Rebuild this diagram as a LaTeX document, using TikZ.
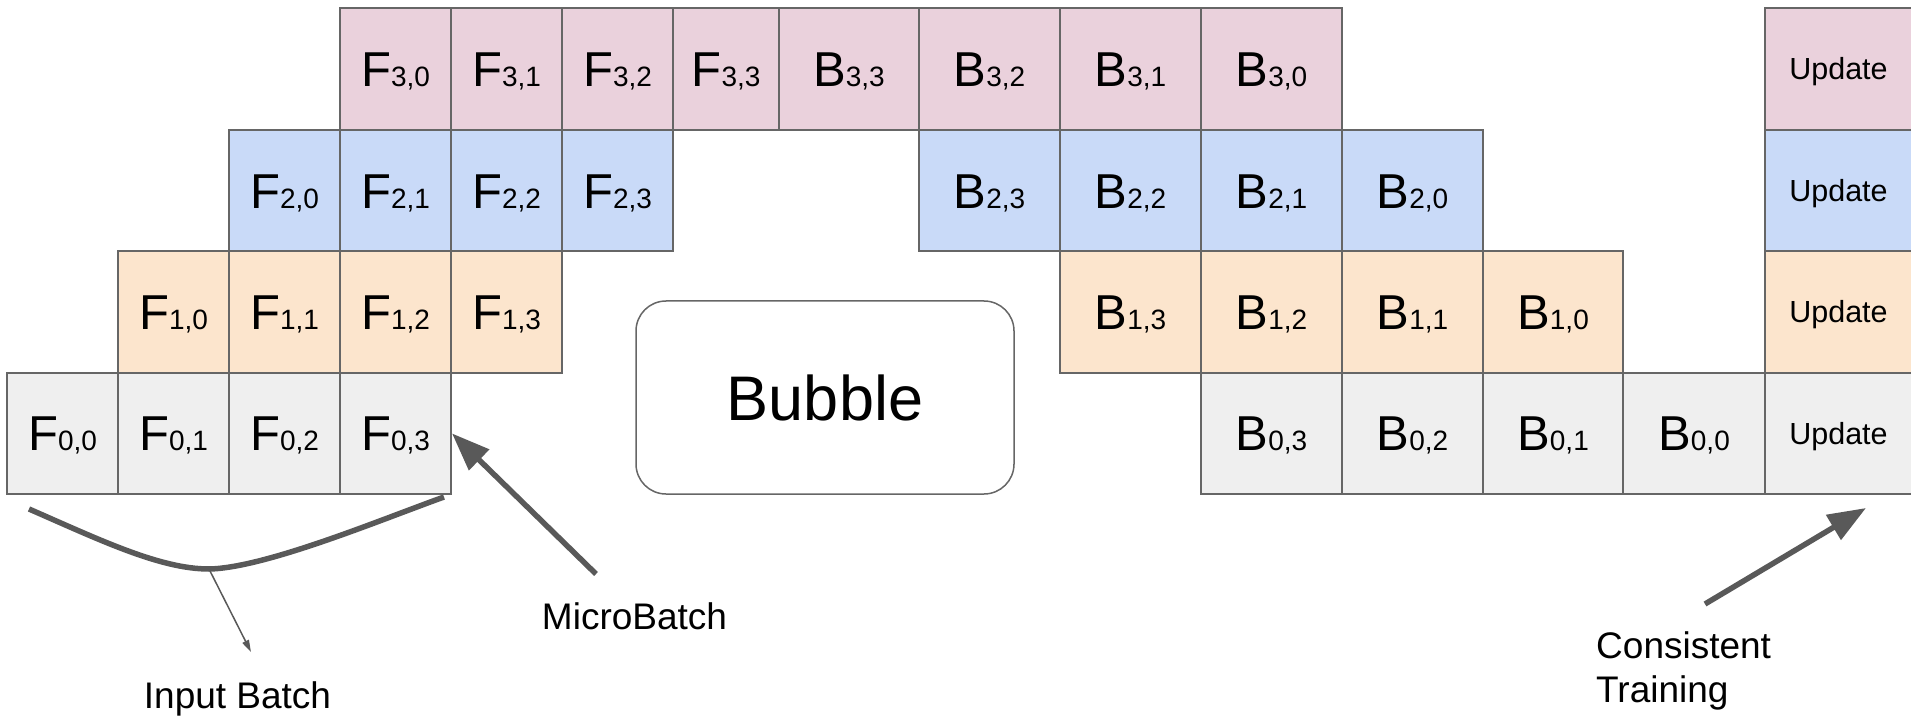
\documentclass[tikz,border=0pt]{standalone}
\usepackage{fontspec}
\setmainfont{Liberation Sans}
\usetikzlibrary{arrows.meta}

\definecolor{stagepink}{HTML}{EAD1DC}
\definecolor{stageblue}{HTML}{C9DAF8}
\definecolor{stageorange}{HTML}{FCE5CD}
\definecolor{stagegray}{HTML}{EFEFEF}
\definecolor{edgegray}{HTML}{666666}
\definecolor{arrowgray}{HTML}{595959}

% operation label: big letter followed by smaller stage,micro-batch index
\newcommand\opF[2]{{\fontsize{49}{49}\selectfont #1}{\fontsize{28}{28}\selectfont #2}}

% one schedule cell: name, left x, right x, stage row, fill, label
\newcommand\pcell[6]{%
  \node[cell, fill=#5, minimum width={(#3-#2)*1pt}] (#1)
    at ({(#2+#3)/2},{8.5+121.4*(3-#4)+60.7}) {#6};}

\begin{document}
\begin{tikzpicture}[x=1pt,y=-1pt,
  cell/.style={draw=edgegray, line width=2pt, minimum height=121.4pt,
    inner sep=0pt, text height=35pt, text depth=0pt},
  updatecell/.style={cell, minimum width=147pt, fill=#1, text height=21.5pt,
    font=\fontsize{30.5}{30.5}\selectfont},
  bubblebox/.style={draw=edgegray, line width=1.5pt, rounded corners=30pt,
    minimum width=378pt, minimum height=193pt, inner sep=0pt,
    text height=45pt, text depth=0pt, font=\fontsize{63}{63}\selectfont},
  notetext/.style={inner sep=0pt, font=\fontsize{37}{44}\selectfont},
  bigarrow/.style={draw=arrowgray, line width=5.5pt,
    -{Triangle[length=38pt,width=28pt]}},
  thinarrow/.style={draw=arrowgray, line width=1.5pt,
    -{Triangle[length=12pt,width=7pt]}},
  bracecurve/.style={draw=arrowgray, line width=5.5pt}]

\useasboundingbox (0,0) rectangle (1911,719);
\clip (0,0) rectangle (1911,719);

% stage 3
\pcell{F30}{340}{451}{3}{stagepink}{\opF{F}{3,0}}
\pcell{F31}{451}{562}{3}{stagepink}{\opF{F}{3,1}}
\pcell{F32}{562}{673}{3}{stagepink}{\opF{F}{3,2}}
\pcell{F33}{673}{779}{3}{stagepink}{\opF{F}{3,3}}
\pcell{B33}{779}{919}{3}{stagepink}{\opF{B}{3,3}}
\pcell{B32}{919}{1060}{3}{stagepink}{\opF{B}{3,2}}
\pcell{B31}{1060}{1201}{3}{stagepink}{\opF{B}{3,1}}
\pcell{B30}{1201}{1342}{3}{stagepink}{\opF{B}{3,0}}
% stage 2
\pcell{F20}{229}{340}{2}{stageblue}{\opF{F}{2,0}}
\pcell{F21}{340}{451}{2}{stageblue}{\opF{F}{2,1}}
\pcell{F22}{451}{562}{2}{stageblue}{\opF{F}{2,2}}
\pcell{F23}{562}{673}{2}{stageblue}{\opF{F}{2,3}}
\pcell{B23}{919}{1060}{2}{stageblue}{\opF{B}{2,3}}
\pcell{B22}{1060}{1201}{2}{stageblue}{\opF{B}{2,2}}
\pcell{B21}{1201}{1342}{2}{stageblue}{\opF{B}{2,1}}
\pcell{B20}{1342}{1483}{2}{stageblue}{\opF{B}{2,0}}
% stage 1
\pcell{F10}{118}{229}{1}{stageorange}{\opF{F}{1,0}}
\pcell{F11}{229}{340}{1}{stageorange}{\opF{F}{1,1}}
\pcell{F12}{340}{451}{1}{stageorange}{\opF{F}{1,2}}
\pcell{F13}{451}{562}{1}{stageorange}{\opF{F}{1,3}}
\pcell{B13}{1060}{1201}{1}{stageorange}{\opF{B}{1,3}}
\pcell{B12}{1201}{1342}{1}{stageorange}{\opF{B}{1,2}}
\pcell{B11}{1342}{1483}{1}{stageorange}{\opF{B}{1,1}}
\pcell{B10}{1483}{1623}{1}{stageorange}{\opF{B}{1,0}}
% stage 0
\pcell{F00}{7}{118}{0}{stagegray}{\opF{F}{0,0}}
\pcell{F01}{118}{229}{0}{stagegray}{\opF{F}{0,1}}
\pcell{F02}{229}{340}{0}{stagegray}{\opF{F}{0,2}}
\pcell{F03}{340}{451}{0}{stagegray}{\opF{F}{0,3}}
\pcell{B03}{1201}{1342}{0}{stagegray}{\opF{B}{0,3}}
\pcell{B02}{1342}{1483}{0}{stagegray}{\opF{B}{0,2}}
\pcell{B01}{1483}{1623}{0}{stagegray}{\opF{B}{0,1}}
\pcell{B00}{1623}{1765}{0}{stagegray}{\opF{B}{0,0}}

% weight updates
\node[updatecell=stagepink]   (U3) at (1838.5,{8.5+60.7})       {Update};
\node[updatecell=stageblue]   (U2) at (1838.5,{8.5+121.4+60.7}) {Update};
\node[updatecell=stageorange] (U1) at (1838.5,{8.5+242.8+60.7}) {Update};
\node[updatecell=stagegray]   (U0) at (1838.5,{8.5+364.2+60.7}) {Update};

% idle region
\node[bubblebox] (bubble) at (825,397.5) {Bubble};

% annotations
\node[notetext, anchor=base] (inputbatch) at (237.5,708) {Input Batch};
\node[notetext, anchor=base] (microbatch) at (634.5,629) {MicroBatch};
\node[notetext, anchor=base west, text width=250pt, align=left] (consistent)
  at (1596,658) {Consistent\\Training};

\coordinate (braceL) at (29,509);
\coordinate (braceLow) at (209,569);
\coordinate (braceR) at (444,497);
\coordinate (batchtip) at (251,652);
\coordinate (mbtail) at (596,574);
\coordinate (cttail) at (1705,604);
\coordinate (cttip) at (1866,508);

\draw[bracecurve] (braceL) .. controls (100,540) and (160,569) .. (braceLow)
  .. controls (265,568) and (380,520) .. (braceR);
\draw[thinarrow] (braceLow) -- (batchtip);
\draw[bigarrow] (mbtail) -- (F03.east);
\draw[bigarrow] (cttail) -- (cttip);

\end{tikzpicture}
\end{document}
